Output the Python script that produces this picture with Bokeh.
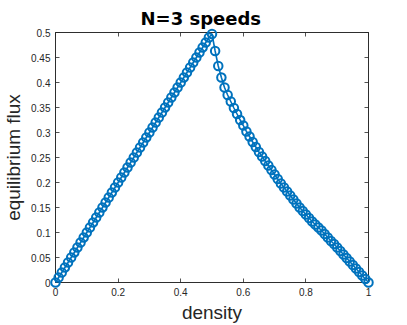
from bokeh.plotting import figure
from bokeh.models import FixedTicker, LinearAxis, Range1d, PrintfTickFormatter, CustomJSTickFormatter
from bokeh.embed import file_html
from bokeh.resources import INLINE

density = [0.00, 0.01, 0.02, 0.03, 0.04, 0.05, 0.06, 0.07, 0.08, 0.09,
           0.10, 0.11, 0.12, 0.13, 0.14, 0.15, 0.16, 0.17, 0.18, 0.19,
           0.20, 0.21, 0.22, 0.23, 0.24, 0.25, 0.26, 0.27, 0.28, 0.29,
           0.30, 0.31, 0.32, 0.33, 0.34, 0.35, 0.36, 0.37, 0.38, 0.39,
           0.40, 0.41, 0.42, 0.43, 0.44, 0.45, 0.46, 0.47, 0.48, 0.49,
           0.50, 0.51, 0.52, 0.53, 0.54, 0.55, 0.56, 0.57, 0.58, 0.59,
           0.60, 0.61, 0.62, 0.63, 0.64, 0.65, 0.66, 0.67, 0.68, 0.69,
           0.70, 0.71, 0.72, 0.73, 0.74, 0.75, 0.76, 0.77, 0.78, 0.79,
           0.80, 0.81, 0.82, 0.83, 0.84, 0.85, 0.86, 0.87, 0.88, 0.89,
           0.90, 0.91, 0.92, 0.93, 0.94, 0.95, 0.96, 0.97, 0.98, 0.99,
           1.00]

flux = [0.000, 0.010, 0.020, 0.030, 0.040, 0.050, 0.060, 0.070, 0.080, 0.090,
        0.100, 0.110, 0.120, 0.130, 0.140, 0.150, 0.160, 0.170, 0.180, 0.190,
        0.200, 0.210, 0.220, 0.230, 0.240, 0.250, 0.260, 0.270, 0.280, 0.290,
        0.300, 0.310, 0.320, 0.330, 0.340, 0.350, 0.360, 0.370, 0.380, 0.390,
        0.400, 0.410, 0.420, 0.430, 0.440, 0.450, 0.460, 0.470, 0.480, 0.490,
        0.497, 0.463, 0.433, 0.410, 0.390, 0.375, 0.362, 0.349, 0.337, 0.325,
        0.314, 0.302, 0.292, 0.281, 0.271, 0.261, 0.252, 0.243, 0.234, 0.225,
        0.216, 0.207, 0.198, 0.190, 0.182, 0.174, 0.166, 0.158, 0.150, 0.143,
        0.136, 0.129, 0.122, 0.116, 0.110, 0.104, 0.097, 0.090, 0.083, 0.077,
        0.070, 0.063, 0.056, 0.049, 0.042, 0.035, 0.028, 0.021, 0.014, 0.007,
        0.000]

x_ticks = [0, 0.2, 0.4, 0.6, 0.8, 1]
y_ticks = [0, 0.05, 0.1, 0.15, 0.2, 0.25, 0.3, 0.35, 0.4, 0.45, 0.5]

BLUE = "#0072BD"
AX = "#262626"
FONT = "Liberation Sans"

p = figure(width=407, height=325, output_backend="svg", toolbar_location=None,
           x_range=Range1d(0, 1), y_range=Range1d(0, 0.5),
           min_border_left=55, min_border_right=39, min_border_top=32, min_border_bottom=43)

p.title.text = "N=3 speeds"
p.title.text_font = "DejaVu Sans"
p.title.text_font_size = "18px"
p.title.text_font_style = "bold"
p.title.text_color = "#000000"
p.title.align = "left"
p.title.offset = 85
p.title.standoff = 8

p.line(density, flux, line_color=BLUE, line_width=1.6, level="overlay")
p.scatter(density, flux, marker="circle", size=8.5, fill_color=None,
          line_color=BLUE, line_width=2, level="overlay")

p.grid.visible = False
p.outline_line_color = AX
p.outline_line_width = 0.8
p.background_fill_color = "white"
p.border_fill_color = "white"

def style(ax, ticks, labels=True):
    ax.ticker = FixedTicker(ticks=ticks)
    ax.axis_line_color = AX
    ax.axis_line_width = 0.8
    ax.major_tick_line_color = AX
    ax.major_tick_line_width = 0.8
    ax.major_tick_in = 4
    ax.major_tick_out = 0
    ax.minor_tick_line_color = None
    ax.major_label_text_font = FONT
    ax.major_label_text_font_size = "10px"
    ax.major_label_text_color = AX
    if labels:
        ax.formatter = PrintfTickFormatter(format="%g")
        ax.major_label_standoff = 5
    else:
        ax.formatter = CustomJSTickFormatter(code="return ''")
        ax.major_label_standoff = 0
        ax.major_label_text_font_size = "0px"

style(p.xaxis[0], x_ticks)
style(p.yaxis[0], y_ticks)
p.xaxis.axis_label = "density"
p.yaxis.axis_label = "equilibrium flux"
for ax in (p.xaxis[0], p.yaxis[0]):
    ax.axis_label_text_font = FONT
    ax.axis_label_text_font_size = "19px"
    ax.axis_label_text_font_style = "normal"
    ax.axis_label_text_color = AX
p.xaxis.axis_label_standoff = 3
p.yaxis.axis_label_standoff = 4

top = LinearAxis()
style(top, x_ticks, labels=False)
p.add_layout(top, "above")
right = LinearAxis()
style(right, y_ticks, labels=False)
p.add_layout(right, "right")

open("out.html", "w").write(file_html(p, INLINE))
